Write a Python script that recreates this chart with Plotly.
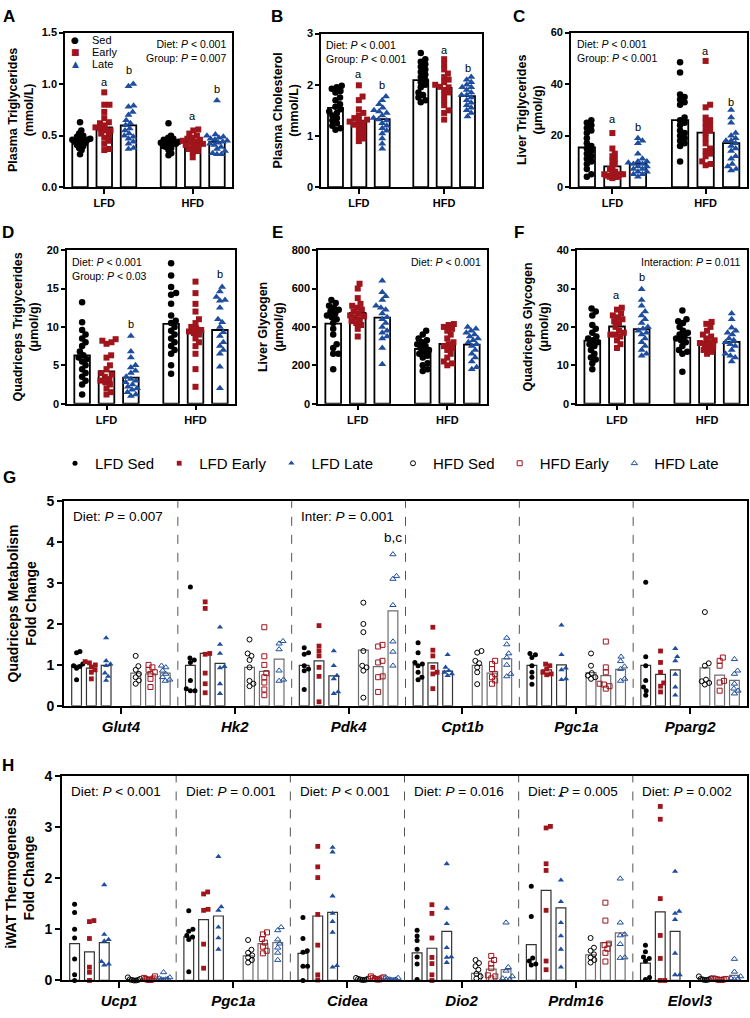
import numpy as np
import plotly.graph_objects as go

FONT = "Liberation Sans, Arial, sans-serif"
BLACK = "#000000"
RED = "#A0141C"
BLUE = "#1F4E9E"
FW, FH = 750, 1018

GROUPS = ["LFD Sed", "LFD Early", "LFD Late", "HFD Sed", "HFD Early", "HFD Late"]
SHORT = ["Sed", "Early", "Late"]
DIETS = ["LFD", "HFD"]

# ---------------- Panel A-F data ----------------
a_means = [0.46, 0.58, 0.60, 0.44, 0.44, 0.44]
a_pts = [
    [0.63, 0.55, 0.52, 0.50, 0.49, 0.48, 0.47, 0.46, 0.46, 0.45, 0.45, 0.44, 0.43, 0.42, 0.41, 0.40, 0.38, 0.36, 0.32],
    [0.92, 0.80, 0.80, 0.73, 0.67, 0.63, 0.62, 0.60, 0.58, 0.57, 0.55, 0.55, 0.52, 0.50, 0.48, 0.45, 0.42, 0.37, 0.36],
    [1.00, 0.98, 0.79, 0.78, 0.73, 0.70, 0.65, 0.62, 0.60, 0.57, 0.55, 0.52, 0.50, 0.49, 0.47, 0.44, 0.42, 0.38, 0.37],
    [0.62, 0.50, 0.48, 0.47, 0.46, 0.45, 0.44, 0.44, 0.43, 0.42, 0.42, 0.41, 0.40, 0.39, 0.38, 0.36, 0.33, 0.31],
    [0.56, 0.55, 0.52, 0.50, 0.48, 0.47, 0.46, 0.45, 0.44, 0.43, 0.42, 0.41, 0.40, 0.39, 0.37, 0.35, 0.34, 0.29],
    [0.84, 0.51, 0.50, 0.49, 0.48, 0.47, 0.46, 0.45, 0.44, 0.43, 0.42, 0.41, 0.39, 0.37, 0.35, 0.33, 0.32, 0.32],
]
b_means = [1.55, 1.30, 1.33, 2.09, 1.94, 1.78]
b_pts = [
    [1.98, 1.95, 1.92, 1.88, 1.85, 1.75, 1.70, 1.62, 1.57, 1.52, 1.48, 1.45, 1.40, 1.35, 1.30, 1.25, 1.20, 1.15, 1.12],
    [1.99, 1.77, 1.70, 1.52, 1.45, 1.40, 1.35, 1.32, 1.30, 1.28, 1.25, 1.22, 1.20, 1.15, 1.10, 1.05, 1.00, 0.95, 0.90],
    [1.77, 1.70, 1.62, 1.55, 1.50, 1.48, 1.45, 1.40, 1.35, 1.32, 1.30, 1.25, 1.20, 1.15, 1.10, 1.05, 0.95, 0.85, 0.75],
    [2.62, 2.50, 2.45, 2.40, 2.35, 2.30, 2.25, 2.20, 2.15, 2.10, 2.05, 2.00, 1.95, 1.85, 1.80, 1.75, 1.70, 1.66],
    [2.50, 2.40, 2.30, 2.22, 2.15, 2.10, 2.05, 2.00, 1.96, 1.95, 1.90, 1.85, 1.80, 1.70, 1.60, 1.50, 1.45, 1.32],
    [2.15, 2.10, 2.05, 2.00, 1.95, 1.95, 1.90, 1.85, 1.80, 1.80, 1.75, 1.70, 1.65, 1.60, 1.55, 1.50, 1.45, 1.38],
]
c_means = [15.4, 8.1, 9.0, 26.0, 21.2, 17.1]
c_pts = [
    [26, 25, 24, 23, 22, 21, 19, 17, 16, 15, 14, 13, 12, 11, 10, 9, 7, 5, 4],
    [21, 15, 13, 12, 11, 10, 9, 8, 7, 6, 6, 5, 5, 5, 4.5, 4, 4, 4, 3.5],
    [19, 18, 17, 13, 11, 10, 10, 9.5, 9, 9, 8, 8, 7, 7, 6, 6, 5, 5, 4],
    [48.5, 44.5, 36, 35, 34, 33, 32, 27, 26, 25, 24, 22, 21, 20, 19, 18, 17, 16, 10],
    [49, 32, 31, 27, 26, 25, 24, 23, 22, 21, 19, 17, 15, 14, 13, 12, 10, 9, 8.5],
    [30, 27, 25, 21, 20, 19, 18, 18, 17, 16, 15, 14, 12, 11, 9, 8, 7, 6.5],
]
d_means = [6.3, 4.2, 3.4, 10.4, 9.5, 9.6]
d_pts = [
    [13.2, 10.6, 9.6, 9.0, 8.5, 8.0, 7.5, 6.8, 6.3, 6.0, 5.8, 5.5, 5.0, 4.5, 4.0, 3.5, 3.0, 2.5, 1.2],
    [8.4, 8.2, 8.0, 7.8, 6.3, 6.0, 5.0, 4.5, 4.0, 3.8, 3.5, 3.2, 3.0, 2.8, 2.5, 2.0, 1.5, 1.2],
    [8.8, 6.8, 6.0, 5.0, 4.7, 4.3, 4.0, 3.5, 3.2, 3.0, 2.8, 2.5, 2.2, 2.0, 1.8, 1.5, 1.2, 1.0],
    [18.3, 16.7, 15.2, 14.4, 14.2, 13.0, 11.5, 10.8, 10.5, 10.0, 9.5, 9.0, 8.5, 8.0, 7.5, 7.0, 6.5, 5.0, 3.9],
    [15.9, 14.4, 13.0, 12.0, 11.0, 10.5, 10.0, 9.8, 9.6, 9.4, 9.2, 9.0, 8.5, 8.0, 7.5, 6.5, 4.5, 2.2],
    [15.2, 14.6, 13.9, 13.5, 13.4, 12.5, 11.0, 10.6, 10.0, 9.3, 8.8, 8.0, 7.5, 7.0, 6.5, 4.8, 2.0],
]
e_means = [417, 473, 448, 285, 311, 308]
e_pts = [
    [540, 525, 510, 500, 490, 480, 470, 460, 450, 440, 420, 390, 360, 310, 290, 260, 260, 180],
    [625, 600, 550, 520, 510, 500, 490, 480, 470, 460, 455, 450, 440, 430, 420, 410, 390, 350],
    [640, 580, 560, 540, 510, 500, 490, 470, 450, 440, 420, 400, 380, 370, 350, 340, 290, 205],
    [380, 360, 340, 330, 320, 310, 300, 290, 280, 270, 260, 250, 240, 210, 200, 180, 170],
    [415, 410, 400, 390, 380, 360, 340, 320, 310, 300, 290, 280, 260, 240, 220, 210, 200],
    [400, 390, 380, 370, 360, 350, 340, 330, 320, 310, 300, 280, 260, 240, 220, 190, 180],
]
f_means = [16.4, 20.1, 19.4, 17.2, 16.1, 16.1]
f_pts = [
    [24.8, 24.0, 23.0, 20.5, 19.5, 18.5, 17.5, 17.0, 16.5, 16.0, 15.5, 15.0, 14.0, 13.0, 12.0, 11.5, 10.5, 9.0],
    [25.0, 24.5, 23.5, 23.0, 22.5, 22.0, 21.5, 21.0, 20.0, 19.0, 18.5, 18.0, 18.0, 17.5, 16.5, 15.5, 14.5],
    [29.8, 27.0, 25.5, 24.0, 23.0, 22.0, 21.0, 20.0, 19.5, 19.0, 18.5, 18.0, 17.0, 16.0, 15.0, 14.0, 13.0, 12.5],
    [24.3, 22.0, 21.5, 21.0, 20.0, 19.0, 18.5, 18.0, 17.5, 17.0, 16.5, 16.0, 15.0, 14.0, 13.5, 13.0, 8.3],
    [21.3, 20.8, 20.0, 19.0, 18.0, 17.5, 17.0, 16.5, 16.0, 15.8, 15.5, 15.0, 14.5, 14.0, 13.5, 13.0],
    [23.5, 22.0, 19.8, 19.0, 18.5, 18.0, 17.0, 16.5, 16.0, 15.5, 15.0, 14.0, 13.0, 12.5, 12.0, 11.0],
]

# ---------------- Panel G data (Quadriceps metabolism) ----------------
g_genes = ["Glut4", "Hk2", "Pdk4", "Cpt1b", "Pgc1a", "Pparg2"]
g_means = [
    [0.99, 0.92, 0.99, 0.80, 0.78, 0.80],
    [0.99, 1.28, 1.04, 0.94, 0.84, 1.14],
    [0.99, 1.10, 0.73, 1.36, 0.96, 2.32],
    [1.00, 1.05, 0.85, 0.99, 0.80, 1.15],
    [0.99, 0.88, 1.00, 0.81, 0.74, 0.89],
    [0.99, 0.77, 0.88, 0.93, 0.75, 0.62],
]
g_pts = [
    [[1.33, 1.30, 1.02, 0.98, 0.96, 0.92, 0.64], [1.08, 1.05, 1.00, 0.95, 0.88, 0.82, 0.66],
     [1.66, 1.10, 1.02, 0.98, 0.80, 0.72, 0.62], [1.22, 0.97, 0.88, 0.78, 0.70, 0.62, 0.54],
     [1.00, 0.94, 0.88, 0.82, 0.78, 0.66, 0.46], [0.98, 0.94, 0.86, 0.78, 0.70, 0.64, 0.61]],
    [[2.90, 1.17, 1.12, 1.06, 0.62, 0.42, 0.37, 0.37], [2.54, 2.38, 1.28, 1.26, 0.80, 0.54, 0.32],
     [1.92, 1.50, 1.28, 0.96, 0.93, 0.54, 0.30], [1.62, 1.28, 1.22, 1.12, 0.94, 0.61, 0.54, 0.48],
     [1.92, 1.21, 1.00, 0.80, 0.70, 0.57, 0.40, 0.26], [1.58, 1.52, 1.38, 0.86, 0.64, 0.61]],
    [[1.42, 1.30, 1.26, 0.98, 0.90, 0.86, 0.40], [1.96, 1.46, 1.34, 1.22, 0.94, 0.72, 0.10],
     [1.34, 0.98, 0.74, 0.66, 0.34, 0.30], [2.52, 2.00, 1.80, 1.34, 0.98, 0.94, 0.86, 0.20],
     [1.49, 1.45, 1.10, 1.06, 0.72, 0.70, 0.34], [3.70, 3.17, 3.10, 2.46, 1.57, 1.32, 0.98]],
    [[1.54, 1.30, 1.06, 1.02, 0.98, 0.82, 0.70, 0.64], [1.92, 1.36, 1.22, 0.94, 0.82, 0.78, 0.42],
     [1.25, 0.94, 0.86, 0.82, 0.78, 0.74], [1.34, 1.30, 1.10, 1.04, 0.94, 0.82, 0.53],
     [1.10, 1.02, 0.90, 0.78, 0.70, 0.62, 0.54], [1.66, 1.50, 1.28, 1.18, 1.00, 0.78, 0.72]],
    [[1.28, 1.25, 1.18, 0.98, 0.82, 0.70, 0.53], [1.02, 0.98, 0.90, 0.82, 0.78, 0.76],
     [1.97, 1.25, 0.92, 0.88, 0.66, 0.64], [1.28, 0.98, 0.80, 0.74, 0.70, 0.66],
     [1.57, 0.94, 0.82, 0.54, 0.52, 0.48, 0.42], [1.20, 1.09, 0.96, 0.90, 0.66, 0.61]],
    [[3.02, 1.20, 0.98, 0.62, 0.46, 0.37, 0.26], [1.34, 1.06, 0.82, 0.56, 0.48, 0.34],
     [1.40, 1.20, 1.10, 0.77, 0.46, 0.26], [2.29, 1.04, 0.98, 0.64, 0.60, 0.56, 0.52],
     [1.18, 1.10, 0.98, 0.61, 0.57, 0.37], [1.14, 0.86, 0.78, 0.54, 0.42, 0.37, 0.30]],
]
g_stats = ["Diet: <i>P</i> = 0.007", "", "Inter: <i>P</i> = 0.001", "", "", ""]

# ---------------- Panel H data (iWAT thermogenesis) ----------------
h_genes = ["Ucp1", "Pgc1a", "Cidea", "Dio2", "Prdm16", "Elovl3"]
h_means = [
    [0.72, 0.56, 0.74, 0.02, 0.03, 0.04],
    [0.85, 1.19, 1.26, 0.48, 0.72, 0.74],
    [0.53, 1.26, 1.33, 0.03, 0.04, 0.03],
    [0.54, 0.63, 0.96, 0.14, 0.22, 0.21],
    [0.70, 1.76, 1.42, 0.50, 0.74, 0.93],
    [0.34, 1.34, 0.96, 0.03, 0.02, 0.10],
]
h_pts = [
    [[1.49, 1.33, 1.00, 0.83, 0.42, 0.11, 0.00], [1.17, 1.15, 0.82, 0.26, 0.16, 0.00],
     [1.87, 0.90, 0.80, 0.77, 0.37, 0.32, 0.30], [0.06, 0.03, 0.02, 0.01, 0.01, 0.00, 0.00],
     [0.08, 0.05, 0.04, 0.03, 0.02, 0.02, 0.01, 0.01], [0.16, 0.06, 0.04, 0.03, 0.02, 0.02, 0.01]],
    [[1.36, 1.00, 0.96, 0.88, 0.85, 0.80, 0.17], [1.73, 1.69, 1.39, 1.37, 0.71, 0.24],
     [2.42, 1.44, 1.37, 1.04, 0.83, 0.61], [0.79, 0.60, 0.54, 0.49, 0.45, 0.40, 0.35],
     [0.94, 0.90, 0.81, 0.74, 0.66, 0.58, 0.53], [1.04, 0.98, 0.80, 0.72, 0.64, 0.54, 0.40]],
    [[1.23, 0.82, 0.58, 0.55, 0.28, 0.28, 0.00], [2.62, 2.22, 2.01, 1.29, 0.69, 0.11, 0.01],
     [2.60, 2.51, 1.65, 1.31, 1.15, 0.94, 0.29, 0.26], [0.05, 0.04, 0.03, 0.02, 0.02, 0.01, 0.01],
     [0.08, 0.06, 0.05, 0.04, 0.03, 0.02, 0.02], [0.06, 0.05, 0.03, 0.02, 0.02, 0.01, 0.01]],
    [[0.98, 0.87, 0.78, 0.61, 0.46, 0.32, 0.02], [1.48, 1.31, 0.83, 0.45, 0.33, 0.11, 0.00],
     [2.28, 1.41, 1.11, 0.64, 0.46, 0.45, 0.35], [0.40, 0.34, 0.28, 0.21, 0.13, 0.08, 0.04],
     [0.48, 0.40, 0.33, 0.24, 0.10, 0.08, 0.04], [1.13, 0.26, 0.19, 0.08, 0.04, 0.02, 0.02]],
    [[1.84, 1.25, 0.44, 0.38, 0.32, 0.30], [3.01, 2.98, 2.28, 2.15, 1.37, 0.38, 0.21],
     [3.61, 1.96, 1.54, 1.13, 0.87, 0.61, 0.26], [0.83, 0.64, 0.58, 0.51, 0.45, 0.40, 0.35],
     [1.52, 1.17, 0.72, 0.69, 0.62, 0.54, 0.37], [1.99, 1.13, 0.90, 0.88, 0.71, 0.45, 0.44]],
    [[0.69, 0.56, 0.46, 0.43, 0.38, 0.06, 0.02], [3.40, 3.15, 1.60, 0.88, 0.43, 0.00, 0.00],
     [2.13, 1.35, 1.31, 1.19, 0.53, 0.11, 0.11], [0.08, 0.04, 0.03, 0.02, 0.02, 0.01, 0.01],
     [0.04, 0.03, 0.03, 0.02, 0.02, 0.01, 0.01], [0.42, 0.17, 0.08, 0.04, 0.03, 0.02]],
]
h_stats = ["Diet: <i>P</i> < 0.001", "Diet: <i>P</i> = 0.001", "Diet: <i>P</i> < 0.001",
           "Diet: <i>P</i> = 0.016", "Diet: <i>P</i> = 0.005", "Diet: <i>P</i> = 0.002"]

# ---------------- styles ----------------
COLORS = [BLACK, RED, BLUE, BLACK, RED, BLUE]
SYMS_FILLED = ["circle", "square", "triangle-up"] * 2
SYMS_G = ["circle", "square", "triangle-up", "circle-open", "square-open", "triangle-up-open"]
SIZES_TOP = [6.5, 6, 7] * 2
SIZES_G = [5, 4.8, 5.5, 5, 5, 5.5]
GLYPHS = ["●", "■", "▲"]


def swarm(vals, ppu_y, ppu_x, d_px, max_half):
    vals = np.asarray(vals, dtype=float)
    order = np.argsort(vals)
    placed = []
    offs = np.zeros(len(vals))
    for i in order:
        y = vals[i] * ppu_y
        cands = [0.0]
        for px, py in placed:
            dy = y - py
            if abs(dy) < d_px:
                dx = np.sqrt(d_px ** 2 - dy ** 2)
                cands += [px + dx, px - dx]
        cands.sort(key=abs)
        chosen = cands[-1]
        for c in cands:
            if all((c - px) ** 2 + (y - py) ** 2 >= d_px ** 2 - 1e-6 for px, py in placed):
                chosen = c
                break
        placed.append((chosen, y))
        offs[i] = chosen
    offs = offs / ppu_x
    m = np.max(np.abs(offs)) if len(offs) else 0
    if m > max_half:
        offs *= max_half / m
    return offs


def px_dom_x(a, b):
    return [a / FW, b / FW]


def px_dom_y(top, bot):
    return [1 - bot / FH, 1 - top / FH]


fig = go.Figure()

TOP_POS = [0, 1, 2, 3.65, 4.65, 5.65]
TOP_RANGE = [-0.62, 6.27]

panels = [
    dict(letter="A", means=a_means, pts=a_pts, ymax=1.5, dtick=0.5, fmt=".1f",
         title="Plasma Triglycerides<br>(mmol/L)", xd=(65, 232), yd=(25, 182),
         stats="Diet: <i>P</i> < 0.001<br>Group: <i>P</i> = 0.007", side="right",
         letters=[(1, 1.02, "a"), (2, 1.14, "b"), (4, 0.69, "a"), (5, 0.95, "b")], lpos=(9, 9)),
    dict(letter="B", means=b_means, pts=b_pts, ymax=3, dtick=1, fmt="d",
         title="Plasma Cholesterol<br>(mmol/L)", xd=(321, 482), yd=(26, 182),
         stats="Diet: <i>P</i> < 0.001<br>Group: <i>P</i> < 0.001", side="left",
         letters=[(1, 2.21, "a"), (2, 2.0, "b"), (4, 2.67, "a"), (5, 2.33, "b")], lpos=(277, 9)),
    dict(letter="C", means=c_means, pts=c_pts, ymax=60, dtick=20, fmt="d",
         title="Liver Triglycerides<br>(μmol/g)", xd=(571, 747), yd=(25, 182),
         stats="Diet: <i>P</i> < 0.001<br>Group: <i>P</i> < 0.001", side="left",
         letters=[(1, 26.4, "a"), (2, 23.3, "b"), (4, 52.7, "a"), (5, 32.9, "b")], lpos=(519, 9)),
    dict(letter="D", means=d_means, pts=d_pts, ymax=20, dtick=5, fmt="d",
         title="Quadriceps Triglycerides<br>(μmol/g)", xd=(67, 235), yd=(246, 402),
         stats="Diet: <i>P</i> < 0.001<br>Group: <i>P</i> < 0.03", side="left",
         letters=[(2, 10.4, "b"), (5, 16.9, "b")], lpos=(8, 228)),
    dict(letter="E", means=e_means, pts=e_pts, ymax=800, dtick=200, fmt="d",
         title="Liver Glycogen<br>(μmol/g)", xd=(318, 487), yd=(246, 402),
         stats="Diet: <i>P</i> < 0.001", side="right", letters=[], lpos=(277, 228)),
    dict(letter="F", means=f_means, pts=f_pts, ymax=40, dtick=10, fmt="d",
         title="Quadriceps Glycogen<br>(μmol/g)", xd=(577, 747), yd=(246, 402),
         stats="Interaction: <i>P</i> = 0.011", side="right",
         letters=[(1, 28.2, "a"), (2, 33.1, "b")], lpos=(519, 228)),
]

annotations = []
shapes = []
layout_axes = {}

for k, p in enumerate(panels):
    n = k + 1
    xa = "x" if n == 1 else f"x{n}"
    ya = "y" if n == 1 else f"y{n}"
    fig.add_trace(go.Bar(x=TOP_POS, y=p["means"], width=0.64, xaxis=xa, yaxis=ya,
                         marker=dict(color="white", line=dict(color=BLACK, width=1.8)),
                         showlegend=False, hoverinfo="skip"))
    ph = p["yd"][1] - p["yd"][0]
    pw = p["xd"][1] - p["xd"][0]
    ppu_y = ph / p["ymax"]
    ppu_x = pw / (TOP_RANGE[1] - TOP_RANGE[0])
    for gi in range(6):
        offs = swarm(p["pts"][gi], ppu_y, ppu_x, 5.2, 0.42)
        xs = [TOP_POS[gi] + o for o in offs]
        fig.add_trace(go.Scatter(
            x=xs, y=p["pts"][gi], mode="markers", xaxis=xa, yaxis=ya,
            name=GROUPS[gi], showlegend=False,
            marker=dict(symbol=SYMS_FILLED[gi], size=SIZES_TOP[gi], color=COLORS[gi],
                        line=dict(width=0)),
            cliponaxis=False, hoverinfo="skip"))
    axis_common = dict(showline=True, linecolor=BLACK, linewidth=1.6, mirror=True,
                       ticks="outside", tickcolor=BLACK, tickwidth=1.5, ticklen=4,
                       showgrid=False, zeroline=False,
                       tickfont=dict(family=FONT, size=11, color=BLACK, weight="bold"))
    layout_axes["xaxis" if n == 1 else f"xaxis{n}"] = dict(
        axis_common, domain=px_dom_x(*p["xd"]), range=TOP_RANGE, anchor=ya,
        tickvals=[TOP_POS[1], TOP_POS[4]], ticktext=DIETS, ticklen=5)
    layout_axes["yaxis" if n == 1 else f"yaxis{n}"] = dict(
        axis_common, domain=px_dom_y(*p["yd"]), range=[0, p["ymax"]], anchor=xa,
        dtick=p["dtick"], tickformat=p["fmt"],
        title=dict(text=p["title"], standoff=5,
                   font=dict(family=FONT, size=12.5, color=BLACK, weight="bold")))
    if p["side"] == "right":
        annotations.append(dict(text=p["stats"], xref=f"{xa} domain", yref=f"{ya} domain",
                                x=0.975, y=0.975, xanchor="right", yanchor="top", align="right",
                                showarrow=False, font=dict(family=FONT, size=10.5, color=BLACK)))
    else:
        annotations.append(dict(text=p["stats"], xref=f"{xa} domain", yref=f"{ya} domain",
                                x=0.02, y=0.975, xanchor="left", yanchor="top", align="left",
                                showarrow=False, font=dict(family=FONT, size=10.5, color=BLACK)))
    for gi, yv, t in p["letters"]:
        annotations.append(dict(text=t, x=TOP_POS[gi], y=yv, xref=xa, yref=ya, showarrow=False,
                                font=dict(family=FONT, size=11, color=BLACK)))
    annotations.append(dict(text=f"<b>{p['letter']}</b>", x=p["lpos"][0] / FW, y=1 - p["lpos"][1] / FH,
                            xref="paper", yref="paper", showarrow=False, xanchor="center",
                            yanchor="middle", font=dict(family=FONT, size=17, color=BLACK)))

# Panel A key (Sed / Early / Late) as text, one row per group
for i in range(3):
    yk = 1 - (33 + 12 * i) / FH
    annotations.append(dict(
        text=f"<span style='color:{COLORS[i]}'>{GLYPHS[i]}</span>", xref="paper", yref="paper",
        x=75 / FW, y=yk, xanchor="center", yanchor="middle", showarrow=False,
        font=dict(family="DejaVu Sans", size=9, color=COLORS[i])))
    annotations.append(dict(
        text=SHORT[i], xref="paper", yref="paper", x=90 / FW, y=yk, xanchor="left",
        yanchor="middle", showarrow=False, font=dict(family=FONT, size=11, color=BLACK)))

# ---------------- Panels G and H ----------------
GW = 7.7
G_OFF = [-3, -2, -1, 1, 2, 3]

gh = [
    dict(letter="G", genes=g_genes, means=g_means, pts=g_pts, stats=g_stats, ymax=5,
         title="Quadriceps Metabolism<br>Fold Change", xd=(64, 747), yd=(501, 709),
         lpos=(9, 477), legend_traces=True,
         extra=[(2, 5, 4.12, "b,c")]),
    dict(letter="H", genes=h_genes, means=h_means, pts=h_pts, stats=h_stats, ymax=4,
         title="iWAT Thermogenesis<br>Fold Change", xd=(62, 747), yd=(780, 988),
         lpos=(8, 770), legend_traces=False, extra=[]),
]

for k, p in enumerate(gh):
    n = 7 + k
    xa, ya = f"x{n}", f"y{n}"
    centers = [gi * GW + GW / 2 for gi in range(6)]
    ph = p["yd"][1] - p["yd"][0]
    pw = p["xd"][1] - p["xd"][0]
    ppu_y = ph / p["ymax"]
    ppu_x = pw / (6 * GW)
    for j in range(6):
        fig.add_trace(go.Bar(
            x=[c + G_OFF[j] for c in centers], y=[p["means"][gi][j] for gi in range(6)],
            width=0.66, xaxis=xa, yaxis=ya, showlegend=False, hoverinfo="skip",
            marker=dict(color="white", line=dict(color="#333333" if j < 3 else "#6e6e6e", width=1.2))))
    for j in range(6):
        xs, ys = [], []
        for gi in range(6):
            vals = p["pts"][gi][j]
            offs = swarm(vals, ppu_y, ppu_x, 4.6, 0.42)
            xs += [centers[gi] + G_OFF[j] + o for o in offs]
            ys += list(vals)
        fig.add_trace(go.Scatter(
            x=xs, y=ys, mode="markers", xaxis=xa, yaxis=ya, name=GROUPS[j],
            showlegend=p["legend_traces"], legend="legend2" if j < 3 else "legend3",
            marker=dict(symbol=SYMS_G[j], size=SIZES_G[j], color=COLORS[j],
                        line=dict(width=1, color=COLORS[j]) if j >= 3 else dict(width=0)),
            cliponaxis=False, hoverinfo="skip"))
    axis_common = dict(showline=True, linecolor=BLACK, linewidth=2, mirror=True,
                       ticks="outside", tickcolor=BLACK, tickwidth=2, ticklen=6,
                       showgrid=False, zeroline=False)
    layout_axes[f"xaxis{n}"] = dict(
        axis_common, domain=px_dom_x(*p["xd"]), range=[0, 6 * GW], anchor=ya,
        tickvals=centers, ticktext=[f"<i>{g}</i>" for g in p["genes"]],
        tickfont=dict(family=FONT, size=15, color=BLACK, weight="bold"))
    layout_axes[f"yaxis{n}"] = dict(
        axis_common, domain=px_dom_y(*p["yd"]), range=[0, p["ymax"]], anchor=xa, dtick=1,
        ticklen=5, tickfont=dict(family=FONT, size=14, color=BLACK, weight="bold"),
        title=dict(text=p["title"], standoff=6,
                   font=dict(family=FONT, size=14, color=BLACK, weight="bold")))
    for gi in range(1, 6):
        shapes.append(dict(type="line", xref=xa, yref=f"{ya} domain", x0=gi * GW, x1=gi * GW,
                           y0=0, y1=1, line=dict(color="#555555", width=1, dash="dash")))
    for gi, s in enumerate(p["stats"]):
        if s:
            annotations.append(dict(text=s, x=gi * GW + 0.5, y=0.97, xref=xa, yref=f"{ya} domain",
                                    xanchor="left", yanchor="top", showarrow=False,
                                    font=dict(family=FONT, size=13.5, color=BLACK)))
    for gi, j, yv, t in p["extra"]:
        annotations.append(dict(text=t, x=centers[gi] + G_OFF[j], y=yv, xref=xa, yref=ya,
                                showarrow=False, font=dict(family=FONT, size=13.5, color=BLACK)))
    annotations.append(dict(text=f"<b>{p['letter']}</b>", x=p["lpos"][0] / FW, y=1 - p["lpos"][1] / FH,
                            xref="paper", yref="paper", showarrow=False, xanchor="center",
                            yanchor="middle", font=dict(family=FONT, size=17, color=BLACK)))

leg_common = dict(orientation="h", xanchor="left", yanchor="top", bgcolor="rgba(0,0,0,0)",
                  font=dict(family=FONT, size=15, color=BLACK), itemwidth=30)
fig.update_layout(
    width=FW, height=FH, margin=dict(l=0, r=0, t=0, b=0),
    paper_bgcolor="white", plot_bgcolor="white",
    font=dict(family=FONT, color=BLACK),
    barmode="overlay",
    annotations=annotations, shapes=shapes,
    showlegend=True,
    legend2=dict(leg_common, x=55 / FW, y=1 - 446 / FH),
    legend3=dict(leg_common, x=393 / FW, y=1 - 446 / FH),
    **layout_axes,
)

fig.write_html("out.html")
